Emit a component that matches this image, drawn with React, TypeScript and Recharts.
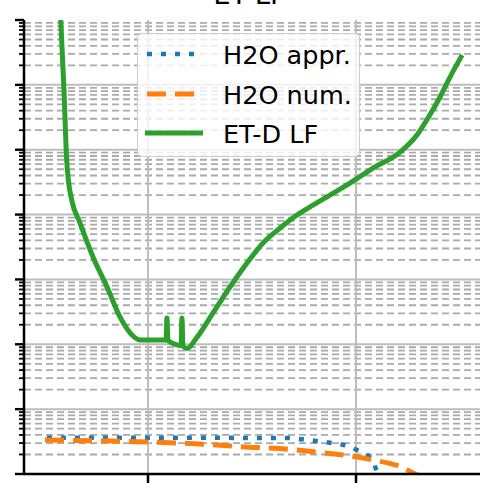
import { Legend, Line, LineChart, ReferenceLine, XAxis, YAxis } from 'recharts';

// log axis: decades plus the 2..9 minors between them
const DECADES = [1, 10, 100, 1e3, 1e4, 1e5, 1e6, 1e7];
const MINOR_STEPS = [2, 3, 4, 5, 6, 7, 8, 9];
const MINOR_Y = DECADES.slice(0, -1).flatMap((d) => MINOR_STEPS.map((k) => k * d));
const Y_TICKS = [...DECADES, ...MINOR_Y];
const X_TICKS = [1, 2];
const X_DOMAIN = [0.4038, 2.596];

const APPR_X = [0.514, 1.673, 1.74, 1.808, 1.875, 1.942, 2.005, 2.063, 2.096, 2.111];
const APPR_Y = [3.63, 3.59, 3.43, 3.23, 3.04, 2.8, 2.34, 1.85, 1.19, 0.81];

const NUM_X = [0.505, 1.0, 1.274, 1.442, 1.683, 1.817, 1.952, 2.082, 2.212, 2.284, 2.332];
const NUM_Y = [3.34, 3.11, 2.87, 2.64, 2.4, 2.16, 1.94, 1.64, 1.3, 1.0, 0.84];

const ETD_X = [
  0.576, 0.596, 0.609, 0.617, 0.633, 0.673, 0.736, 0.803, 0.865, 0.923, 0.962, 1.087, 1.091, 1.096,
  1.159, 1.163, 1.168, 1.1875, 1.236, 1.3125, 1.394, 1.476, 1.553, 1.635, 1.716, 1.793, 1.875,
  1.957, 2.082, 2.212, 2.293, 2.346, 2.404, 2.452, 2.51,
];
const ETD_Y = [
  2.03e7, 8.3e5, 6.9e4, 3.4e4, 1.68e4, 7400, 2200, 764, 264, 139, 116, 116, 254, 114, 95.8, 254, 94,
  86, 129, 304, 764, 1790, 3650, 6210, 9850, 1.4e4, 2.0e4, 2.86e4, 5.2e4, 9.2e4, 1.69e5, 3.08e5,
  6.5e5, 1.32e6, 2.88e6,
];

const zip = (xs: number[], ys: number[]) => xs.map((x, i) => ({ x, y: ys[i] }));

const SERIES = [
  { name: 'H2O appr.', color: '#1f77b4', dash: '5 9', width: 4.5, data: zip(APPR_X, APPR_Y) },
  { name: 'H2O num.', color: '#ff7f0e', dash: '19 9', width: 5, data: zip(NUM_X, NUM_Y) },
  { name: 'ET-D LF', color: '#2ca02c', dash: undefined, width: 5, data: zip(ETD_X, ETD_Y) },
];

const FONT = '"DejaVu Sans", sans-serif';

function LogTick(props: any) {
  const { x, y, payload } = props;
  const major = DECADES.includes(payload.value);
  const len = major ? 9 : 5;
  return <line x1={x - len} y1={y} x2={x} y2={y} stroke="#000" strokeWidth={major ? 2.4 : 1.8} />;
}

function LegendBox() {
  return (
    <div
      style={{
        position: 'relative',
        boxSizing: 'border-box',
        width: 223,
        height: 124,
        border: '1.5px solid rgba(200,200,200,0.9)',
        borderRadius: 5,
        background: 'rgba(255,255,255,0.8)',
      }}
    >
      <svg width={223} height={124} style={{ position: 'absolute', left: -1.5, top: -1.5 }}>
        {SERIES.map((s, i) => {
          const cy = [21, 61, 100][i];
          return (
            <g key={s.name}>
              <line
                x1={s.dash ? 10 : 8}
                x2={s.dash ? 58 : 66}
                y1={cy}
                y2={cy}
                stroke={s.color}
                strokeWidth={s.width}
                strokeDasharray={s.dash}
              />
              <text x={86} y={cy + 10} fontSize={25.5} fontFamily={FONT} fill="#000">
                {s.name}
              </text>
            </g>
          );
        })}
      </svg>
    </div>
  );
}

export default function App() {
  return (
    <div
      style={{
        position: 'fixed',
        left: 0,
        top: 0,
        width: 480,
        height: 495,
        overflow: 'hidden',
        background: '#fff',
        fontFamily: FONT,
      }}
    >
      <svg width={480} height={30} style={{ position: 'absolute', left: 0, top: 0, zIndex: 2 }}>
        <text x={249.5} y={4} textAnchor="middle" fontSize={27.5} fontFamily={FONT} fill="#000">
          ET-LF
        </text>
      </svg>
      <LineChart width={480} height={495} margin={{ top: 20, right: 0, bottom: 0, left: 0 }}>
        <XAxis
          type="number"
          dataKey="x"
          domain={X_DOMAIN}
          allowDataOverflow
          ticks={X_TICKS}
          interval={0}
          height={21}
          tickSize={9}
          tickFormatter={() => ''}
          axisLine={{ stroke: '#000', strokeWidth: 2.5 }}
          tickLine={{ stroke: '#000', strokeWidth: 2.5 }}
        />
        <XAxis
          xAxisId="top"
          orientation="top"
          type="number"
          domain={X_DOMAIN}
          height={0}
          tick={false}
          tickLine={false}
          axisLine={{ stroke: '#000', strokeWidth: 2.5 }}
        />
        <YAxis
          scale="log"
          domain={[1, 1e7]}
          allowDataOverflow
          ticks={Y_TICKS}
          interval={0}
          width={24}
          tickSize={0}
          tickMargin={0}
          tickLine={false}
          tick={LogTick}
          axisLine={{ stroke: '#000', strokeWidth: 2.5 }}
        />
        {MINOR_Y.map((v) => (
          <ReferenceLine key={`m${v}`} y={v} stroke="#aaaaaa" strokeWidth={1.8} strokeDasharray="7 4" />
        ))}
        {DECADES.slice(1, -1).map((v) => (
          <ReferenceLine key={`d${v}`} y={v} stroke="#bdbdbd" strokeWidth={2} />
        ))}
        {X_TICKS.map((v) => (
          <ReferenceLine key={`x${v}`} x={v} stroke="#bdbdbd" strokeWidth={2} />
        ))}
        <Legend
          layout="vertical"
          align="center"
          verticalAlign="middle"
          wrapperStyle={{ left: 137, top: 33, width: 223, height: 124 }}
          content={() => <LegendBox />}
        />
        {SERIES.map((s) => (
          <Line
            key={s.name}
            data={s.data}
            dataKey="y"
            name={s.name}
            type="monotone"
            stroke={s.color}
            strokeWidth={s.width}
            strokeDasharray={s.dash}
            strokeLinejoin="round"
            dot={false}
            activeDot={false}
            isAnimationActive={false}
          />
        ))}
      </LineChart>
    </div>
  );
}
